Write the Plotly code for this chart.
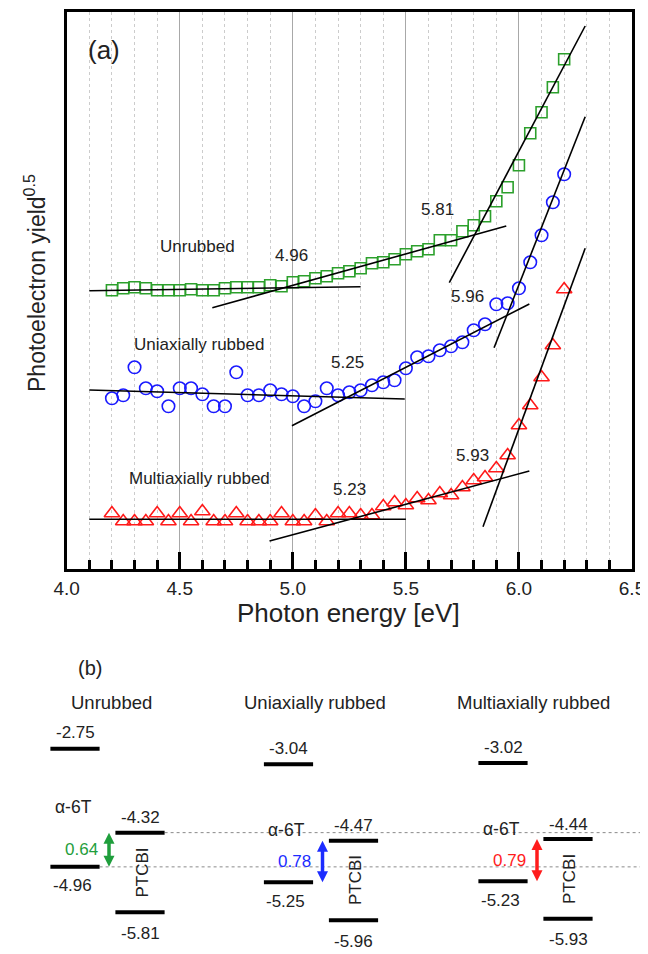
import plotly.graph_objects as go

# page is 648x954; the HTML body adds an 8px margin, so the figure is 640x946
PAGE_OFF = 8
W, H = 640, 946
FONT = "Liberation Sans, Arial, sans-serif"
TXT = "#222222"

# ---------------- Panel (a) data ----------------
photon_energy = [4.20, 4.25, 4.30, 4.35, 4.40, 4.45, 4.50, 4.55, 4.60, 4.65,
                 4.70, 4.75, 4.80, 4.85, 4.90, 4.95, 5.00, 5.05, 5.10, 5.15,
                 5.20, 5.25, 5.30, 5.35, 5.40, 5.45, 5.50, 5.55, 5.60, 5.65,
                 5.70, 5.75, 5.80, 5.85, 5.90, 5.95, 6.00, 6.05, 6.10, 6.15, 6.20]

yield_unrubbed = [2.79, 2.81, 2.82, 2.81, 2.79, 2.79, 2.79, 2.80, 2.79, 2.79,
                  2.81, 2.82, 2.82, 2.82, 2.84, 2.83, 2.87, 2.88, 2.91, 2.93,
                  2.96, 2.98, 3.01, 3.06, 3.07, 3.10, 3.15, 3.18, 3.20, 3.29,
                  3.29, 3.38, 3.44, 3.53, 3.68, 3.82, 4.04, 4.36, 4.57, 4.82, 5.10]

yield_uniaxial = [1.71, 1.74, 2.02, 1.81, 1.78, 1.63, 1.81, 1.81, 1.75, 1.63,
                  1.63, 1.97, 1.74, 1.74, 1.79, 1.75, 1.73, 1.63, 1.68, 1.81,
                  1.74, 1.77, 1.79, 1.84, 1.87, 1.89, 2.01, 2.12, 2.13, 2.19,
                  2.23, 2.27, 2.39, 2.45, 2.65, 2.66, 2.81, 3.07, 3.34, 3.67, 3.95]

yield_multiaxial = [0.56, 0.48, 0.48, 0.48, 0.56, 0.48, 0.56, 0.48, 0.58, 0.48,
                    0.48, 0.56, 0.48, 0.48, 0.48, 0.56, 0.48, 0.48, 0.54, 0.48,
                    0.56, 0.56, 0.54, 0.54, 0.63, 0.67, 0.64, 0.71, 0.69, 0.76,
                    0.74, 0.82, 0.89, 0.92, 1.01, 1.14, 1.44, 1.64, 1.92, 2.24, 2.80]

# fitted straight lines (endpoints)
fit_unrubbed_x = [[4.10, 5.30], [4.644, 5.944], [5.692, 6.293]]
fit_unrubbed_y = [[2.786, 2.826], [2.616, 3.433], [2.866, 5.433]]
fit_uniaxial_x = [[4.10, 5.495], [4.996, 6.046], [5.89, 6.293]]
fit_uniaxial_y = [[1.793, 1.703], [1.436, 2.653], [2.216, 4.526]]
fit_multi_x = [[4.10, 5.50], [4.897, 6.046], [5.841, 6.293]]
fit_multi_y = [[0.50, 0.50], [0.283, 0.983], [0.426, 3.21]]

# threshold labels
threshold_text = ["4.96", "5.81", "5.96", "5.25", "5.93", "5.23"]
threshold_x = [4.992, 5.642, 5.772, 5.241, 5.794, 5.252]
threshold_y = [3.143, 3.600, 2.726, 2.066, 1.143, 0.800]

series_names = ["Unrubbed", "Uniaxially rubbed", "Multiaxially rubbed"]
series_label_x = [4.577, 4.585, 4.588]
series_label_y = [3.226, 2.253, 0.910]

# ---------------- Panel (b) data ----------------
a6t_lumo = [-2.75, -3.04, -3.02]
a6t_homo = [-4.96, -5.25, -5.23]
ptcbi_lumo = [-4.32, -4.47, -4.44]
ptcbi_homo = [-5.81, -5.96, -5.93]
offset_colors = ["#1f9e3c", "#1c2cff", "#ff1c1c"]

# ---------------- layout helpers (page pixel -> paper fraction) ----------------
def px_x(p):
    return (p - PAGE_OFF) / W

def px_y(p):
    return 1 - (p - PAGE_OFF) / H

XA_DOM = [px_x(66.7), px_x(632.0)]
YA_DOM = [px_y(569.3), px_y(12.0)]
YB_DOM = [0.0, px_y(640.0)]
YB_RANGE = [-6.589, -0.719]
PX_PER_EV = (H * (YB_DOM[1] - YB_DOM[0])) / (YB_RANGE[1] - YB_RANGE[0])

fig = go.Figure()

GREEN = "#2ca02c"
BLUE = "#1a1aff"
RED = "#ff1a1a"

fig.add_trace(go.Scatter(x=photon_energy, y=yield_unrubbed, mode="markers",
                         marker=dict(symbol="square-open", size=11, color=GREEN,
                                     line=dict(width=1.6, color=GREEN)),
                         showlegend=False, xaxis="x", yaxis="y"))
fig.add_trace(go.Scatter(x=photon_energy, y=yield_uniaxial, mode="markers",
                         marker=dict(symbol="circle-open", size=12.5, color=BLUE,
                                     line=dict(width=1.6, color=BLUE)),
                         showlegend=False, xaxis="x", yaxis="y"))
fig.add_trace(go.Scatter(x=photon_energy, y=yield_multiaxial, mode="markers",
                         marker=dict(symbol="triangle-up-open", size=13.5, color=RED,
                                     line=dict(width=1.6, color=RED)),
                         showlegend=False, xaxis="x", yaxis="y"))

for fx, fy in ((fit_unrubbed_x, fit_unrubbed_y), (fit_uniaxial_x, fit_uniaxial_y),
               (fit_multi_x, fit_multi_y)):
    for sx, sy in zip(fx, fy):
        fig.add_trace(go.Scatter(x=sx, y=sy, mode="lines",
                                 line=dict(color="black", width=1.6),
                                 showlegend=False, xaxis="x", yaxis="y"))

# ---------------- Panel (b) drawing (x2 units = page pixels) ----------------
col_center = [75.0, 288.5, 503.0]   # α-6T column centres
PT_OFF = 65.0
ARROW_OFF = 34.0
HALF = 24.6
DOT_END = 640.0
HEAD_PX = 11
head_e = (HEAD_PX - 2) / PX_PER_EV

fig.add_trace(go.Scatter(x=[col_center[0] + PT_OFF + HALF, DOT_END],
                         y=[ptcbi_lumo[0], ptcbi_lumo[0]], mode="lines",
                         line=dict(color="#8a8a8a", width=1, dash="dot"),
                         showlegend=False, xaxis="x2", yaxis="y2"))
fig.add_trace(go.Scatter(x=[col_center[0] + HALF, DOT_END],
                         y=[a6t_homo[0], a6t_homo[0]], mode="lines",
                         line=dict(color="#8a8a8a", width=1, dash="dot"),
                         showlegend=False, xaxis="x2", yaxis="y2"))

bx, by = [], []
for i in range(3):
    ca = col_center[i]
    cp = ca + PT_OFF
    for c, v in ((ca, a6t_lumo[i]), (ca, a6t_homo[i]), (cp, ptcbi_lumo[i]), (cp, ptcbi_homo[i])):
        bx += [c - HALF, c + HALF, None]
        by += [v, v, None]
fig.add_trace(go.Scatter(x=bx, y=by, mode="lines", line=dict(color="black", width=4),
                         showlegend=False, xaxis="x2", yaxis="y2"))

# double-headed offset arrows
for i in range(3):
    ax_ = col_center[i] + ARROW_OFF
    top, bot = ptcbi_lumo[i], a6t_homo[i]
    fig.add_trace(go.Scatter(x=[ax_, ax_], y=[top - head_e, bot + head_e], mode="lines",
                             line=dict(color=offset_colors[i], width=3.5),
                             showlegend=False, xaxis="x2", yaxis="y2"))
    fig.add_trace(go.Scatter(x=[ax_, ax_], y=[top, bot], mode="markers",
                             marker=dict(symbol=["arrow-up", "arrow-down"], size=HEAD_PX,
                                         color=offset_colors[i], line=dict(width=0)),
                             showlegend=False, xaxis="x2", yaxis="y2"))

ann = []

def add_text(text, x, y, size, xref="x", yref="y", color=TXT, angle=0, xshift=0, yshift=0):
    ann.append(dict(text=text, x=x, y=y, xref=xref, yref=yref, showarrow=False,
                    font=dict(family=FONT, size=size, color=color), textangle=angle,
                    xanchor="center", yanchor="middle", xshift=xshift, yshift=yshift))

# panel (a) texts
add_text("(a)", 4.166, 5.19, 26)
for t, x, y in zip(series_names, series_label_x, series_label_y):
    add_text(t, x, y, 17)
for t, x, y in zip(threshold_text, threshold_x, threshold_y):
    add_text(t, x, y, 17)

# axis titles
add_text("Photon energy [eV]", px_x(348.5), px_y(613), 26, xref="paper", yref="paper")
add_text("Photoelectron yield<sup>0.5</sup>", px_x(35), px_y(283), 23,
         xref="paper", yref="paper", angle=-90)

# panel (b) texts
add_text("(b)", px_x(90), px_y(668.3), 20, xref="paper", yref="paper")
header_x = [111.6, 315.0, 533.0]
for t, hx in zip(series_names, header_x):
    add_text(t, px_x(hx), px_y(702.7), 18.5, xref="paper", yref="paper")

alpha_label_shift = [26, 11, 10]
for i in range(3):
    ca = col_center[i]
    cp = ca + PT_OFF
    ax_ = ca + ARROW_OFF
    add_text(f"{a6t_lumo[i]:.2f}", ca, a6t_lumo[i], 17, "x2", "y2", yshift=16)
    add_text(f"{a6t_homo[i]:.2f}", ca - 3, a6t_homo[i], 17, "x2", "y2", yshift=-19)
    add_text(f"{ptcbi_lumo[i]:.2f}", cp, ptcbi_lumo[i], 17, "x2", "y2", yshift=15)
    add_text(f"{ptcbi_homo[i]:.2f}", cp, ptcbi_homo[i], 17, "x2", "y2", yshift=-21)
    add_text("α-6T", ca - 2, ptcbi_lumo[i], 17.5, "x2", "y2", yshift=alpha_label_shift[i])
    add_text("PTCBI", cp + 2, (ptcbi_lumo[i] + ptcbi_homo[i]) / 2, 17, "x2", "y2", angle=-90)
    gap = ptcbi_lumo[i] - a6t_homo[i]
    add_text(f"{gap:.2f}", ax_ - 28, (ptcbi_lumo[i] + a6t_homo[i]) / 2, 17, "x2", "y2",
             color=offset_colors[i])

fig.update_layout(
    width=W, height=H, margin=dict(l=0, r=0, t=0, b=0),
    paper_bgcolor="white", plot_bgcolor="white", template="none",
    font=dict(family=FONT, color=TXT), showlegend=False,
    annotations=ann,
    xaxis=dict(domain=XA_DOM, range=[4.0, 6.5], anchor="y", tick0=4.0, dtick=0.5,
               tickformat=".1f", ticks="inside", ticklen=17, tickwidth=2.5, tickcolor="black",
               showline=True, linewidth=3, linecolor="black", mirror=True,
               showgrid=True, gridcolor="#a8a8a8", gridwidth=1, zeroline=False,
               tickfont=dict(family=FONT, size=19, color=TXT), automargin=False,
               minor=dict(tick0=4.0, dtick=0.1, ticks="inside", ticklen=9, tickwidth=2.5,
                          tickcolor="black", showgrid=True, gridcolor="#cccccc",
                          griddash="dot", gridwidth=1)),
    yaxis=dict(domain=YA_DOM, range=[0, 5.573], anchor="x", showline=True, linewidth=3,
               linecolor="black", mirror=True, showticklabels=False, ticks="",
               showgrid=False, zeroline=False, automargin=False),
    xaxis2=dict(domain=[0, 1], range=[PAGE_OFF, PAGE_OFF + W], anchor="y2", visible=False),
    yaxis2=dict(domain=YB_DOM, range=YB_RANGE, anchor="x2", visible=False),
)

fig.write_html("out.html")
